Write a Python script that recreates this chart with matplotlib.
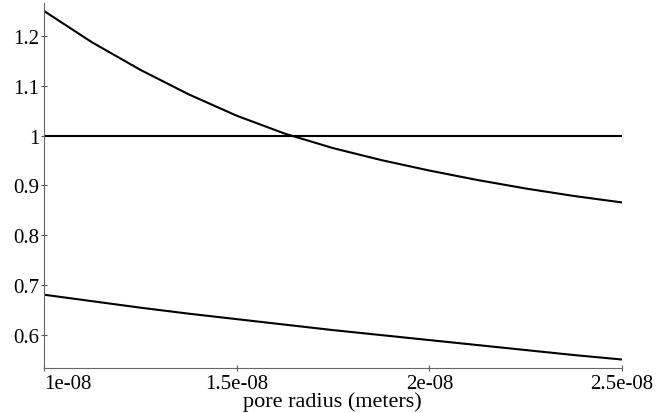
import matplotlib
matplotlib.use("Agg")
import matplotlib.pyplot as plt

radius = [1.0e-08, 1.125e-08, 1.25e-08, 1.375e-08, 1.5e-08, 1.625e-08, 1.75e-08,
          1.875e-08, 2.0e-08, 2.125e-08, 2.25e-08, 2.375e-08, 2.5e-08]
upper_curve = [1.25, 1.187, 1.132, 1.083, 1.040, 1.004, 0.975,
               0.951, 0.930, 0.911, 0.894, 0.879, 0.866]
flat_line = [1.0] * 13
lower_curve = [0.681, 0.668, 0.655, 0.643, 0.632, 0.621, 0.610,
               0.600, 0.590, 0.580, 0.570, 0.560, 0.551]

xticks = [1.0e-08, 1.5e-08, 2.0e-08, 2.5e-08]
xtick_labels = ["1e-08", "1.5e-08", "2e-08", "2.5e-08"]
yticks = [0.6, 0.7, 0.8, 0.9, 1.0, 1.1, 1.2]
ytick_labels = ["0.6", "0.7", "0.8", "0.9", "1", "1.1", "1.2"]
xlabel = "pore radius (meters)"

plt.rcParams['font.family'] = ['Liberation Serif', 'DejaVu Serif']

fig = plt.figure(figsize=(6.56, 4.14), dpi=100)
ax = fig.add_axes([44/656, 1 - 369/414, (622-44)/656, (369-4)/414])

for ys in (upper_curve, flat_line, lower_curve):
    ax.plot(radius, ys, color='black', lw=1.5, solid_capstyle='butt',
            solid_joinstyle='round')

ax.set_xlim(1.0e-08, 2.5e-08)
ax.set_ylim(0.534, 1.266)
for s in ('top', 'right'):
    ax.spines[s].set_visible(False)
for s in ('left', 'bottom'):
    ax.spines[s].set_color('#666666')
    ax.spines[s].set_linewidth(0.8)

ax.set_xticks(xticks)
ax.set_xticklabels(xtick_labels, fontsize=15)
ax.get_xticklabels()[0].set_horizontalalignment('left')
ax.set_yticks(yticks)
ax.set_yticklabels(ytick_labels, fontsize=15)
ax.tick_params(axis='both', direction='inout', length=5, width=0.8, color='#555555', pad=2)
ax.tick_params(axis='y', pad=1)

fig.text(332/656, 1 - 402/414, xlabel, ha='center', va='center', fontsize=16)

fig.savefig("out.png", dpi=100)
